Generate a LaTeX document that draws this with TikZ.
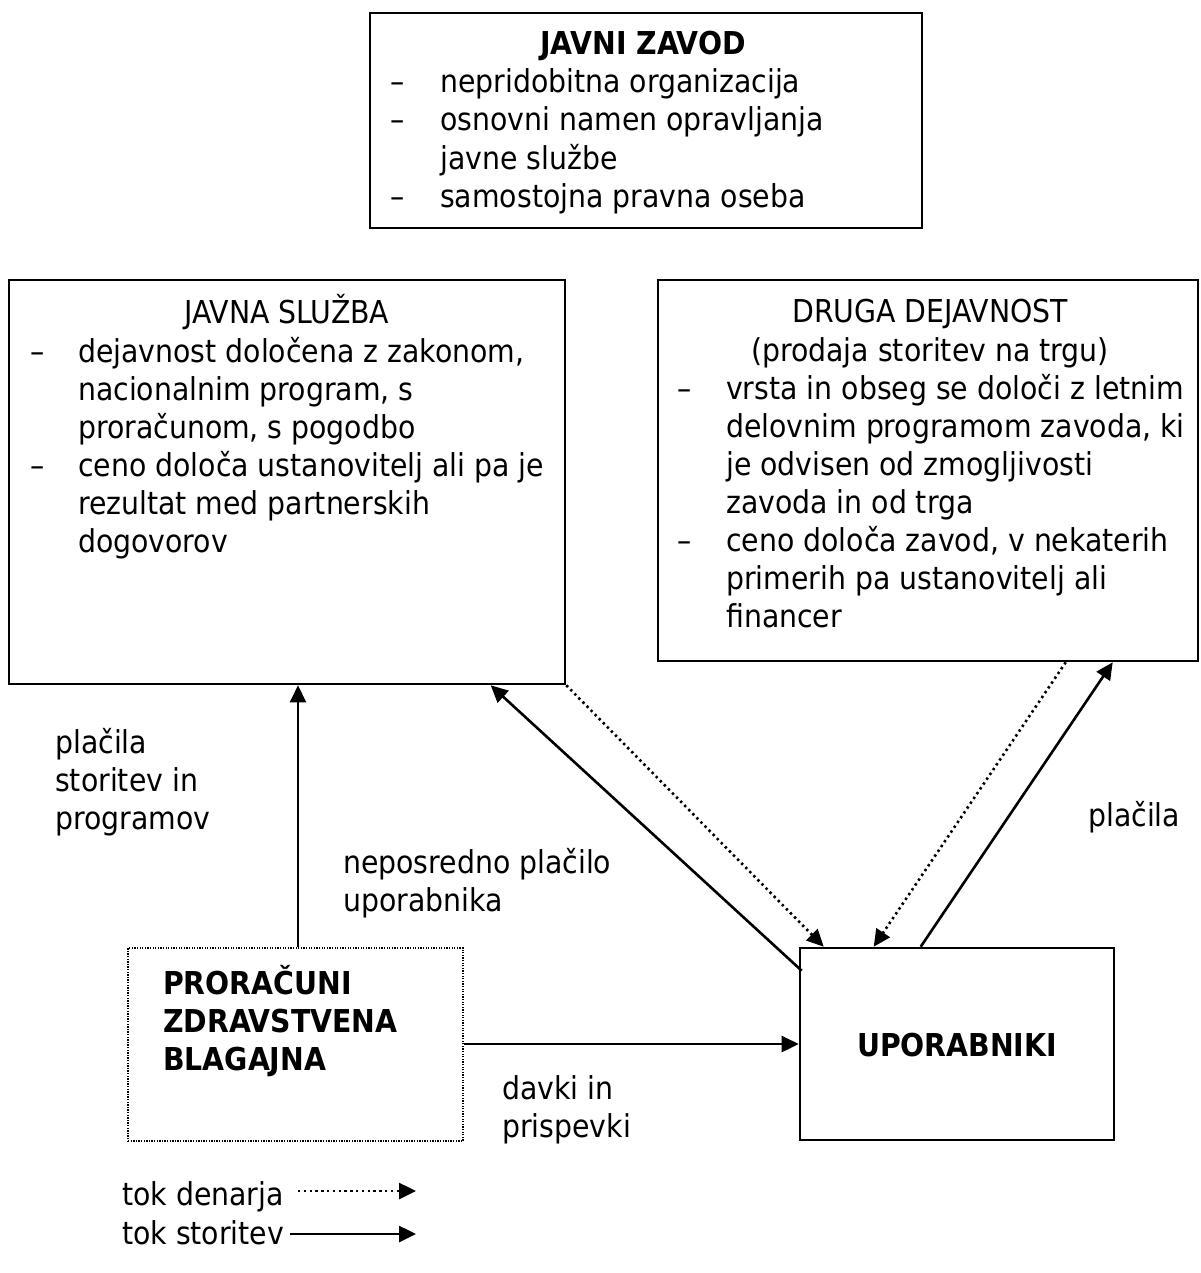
\documentclass[tikz,border=0pt]{standalone}
\usepackage{fontspec}
\setmainfont{DejaVu Sans Condensed}
\usetikzlibrary{arrows.meta,calc}
\newcommand\fsz{\fontsize{31.5}{38}\selectfont}
\begin{document}
\begin{tikzpicture}[x=1pt,y=-1pt,
  box/.style={draw,line width=2.6pt,inner sep=0pt},
  dotbox/.style={draw,line width=1.6pt,dash pattern=on 1.3pt off 1.3pt,inner sep=0pt},
  txt/.style={anchor=base west,inner sep=0pt,font=\fsz},
  ctxt/.style={anchor=base,inner sep=0pt,font=\fsz},
  btxt/.style={anchor=base west,inner sep=0pt,font=\fsz\bfseries},
  solarrow/.style={line width=2.6pt,-{Triangle[length=17pt,width=16pt]}},
  dotarrow/.style={line width=2.6pt,dash pattern=on 2.4pt off 3.4pt,-{Triangle[length=17pt,width=16pt]}}]
\useasboundingbox (0,0) rectangle (1200,1273);

% boxes
\node[box,minimum width=552pt,minimum height=215pt] (jz) at (646,120.5) {};
\node[box,minimum width=556pt,minimum height=404pt] (js) at (287,482) {};
\node[box,minimum width=540pt,minimum height=381pt] (dd) at (928,470.5) {};
\node[dotbox,minimum width=335pt,minimum height=193pt] (pr) at (295.5,1044.5) {};
\node[box,minimum width=314pt,minimum height=192pt] (up) at (957,1044) {};

% JAVNI ZAVOD
\node[ctxt,font=\fsz\bfseries] (jzt) at (643,55) {JAVNI ZAVOD};
\node[txt] (jzd1) at (390,93) {–};
\node[txt] (jz1) at (440,93) {nepridobitna organizacija};
\node[txt] (jzd2) at (390,131) {–};
\node[txt] (jz2) at (440,131) {osnovni namen opravljanja};
\node[txt] (jz3) at (440,170) {javne službe};
\node[txt] (jzd3) at (390,208) {–};
\node[txt] (jz4) at (440,208) {samostojna pravna oseba};

% JAVNA SLUZBA
\node[ctxt] (jst) at (287,323) {JAVNA SLUŽBA};
\node[txt] (jsd1) at (30,362) {–};
\node[txt] (js1) at (78,362) {dejavnost določena z zakonom,};
\node[txt] (js2) at (78,400) {nacionalnim program, s};
\node[txt] (js3) at (78,438) {proračunom, s pogodbo};
\node[txt] (jsd2) at (30,476) {–};
\node[txt] (js4) at (78,476) {ceno določa ustanovitelj ali pa je};
\node[txt] (js5) at (78,514) {rezultat med partnerskih};
\node[txt] (js6) at (78,552) {dogovorov};

% DRUGA DEJAVNOST
\node[ctxt] (ddt) at (930,322) {DRUGA DEJAVNOST};
\node[ctxt] (ddt2) at (930,361) {(prodaja storitev na trgu)};
\node[txt] (ddd1) at (677,399) {–};
\node[txt] (dd1) at (726,399) {vrsta in obseg se določi z letnim};
\node[txt] (dd2) at (726,437) {delovnim programom zavoda, ki};
\node[txt] (dd3) at (726,475) {je odvisen od zmogljivosti};
\node[txt] (dd4) at (726,513) {zavoda in od trga};
\node[txt] (ddd2) at (677,551) {–};
\node[txt] (dd5) at (726,551) {ceno določa zavod, v nekaterih};
\node[txt] (dd6) at (726,589) {primerih pa ustanovitelj ali};
\node[txt] (dd7) at (726,627) {financer};

% PRORACUNI
\node[btxt] (pr1) at (163,994) {PRORAČUNI};
\node[btxt] (pr2) at (163,1032) {ZDRAVSTVENA};
\node[btxt] (pr3) at (163,1070) {BLAGAJNA};

% UPORABNIKI
\node[ctxt,font=\fsz\bfseries] (upt) at (957,1056) {UPORABNIKI};

% labels
\node[txt] (l1) at (55,753) {plačila};
\node[txt] (l2) at (55,791) {storitev in};
\node[txt] (l3) at (55,829) {programov};
\node[txt] (l4) at (343,873) {neposredno plačilo};
\node[txt] (l5) at (343,911) {uporabnika};
\node[txt] (l6) at (1088,826) {plačila};
\node[txt] (l7) at (502,1099) {davki in};
\node[txt] (l8) at (502,1137) {prispevki};

% connectors
\draw[solarrow] ($(pr.north)+(2.5,0)$) -- ($(pr.north |- js.south)+(2.5,0)$);
\draw[solarrow] ($(up.north west)+(3,24)$) -- ($(js.south west)+(483,0)$);
\draw[dotarrow] (js.south east) -- ($(up.north west)+(25,0)$);
\draw[dotarrow] ($(dd.south west)+(409,0)$) -- ($(up.north west)+(75,0)$);
\draw[solarrow] ($(up.north west)+(122,0)$) -- ($(dd.south west)+(456,0)$);
\draw[solarrow] (pr.east |- up.west) -- (up.west);

% legend
\node[txt] (lg1) at (122,1205) {tok denarja};
\node[txt] (lg2) at (122,1244) {tok storitev};
\coordinate (lg1a) at (298,1191);
\coordinate (lg1b) at (416,1191);
\coordinate (lg2a) at (290,1234);
\coordinate (lg2b) at (416,1234);
\draw[dotarrow] (lg1a) -- (lg1b);
\draw[solarrow] (lg2a) -- (lg2b);
\end{tikzpicture}
\end{document}
